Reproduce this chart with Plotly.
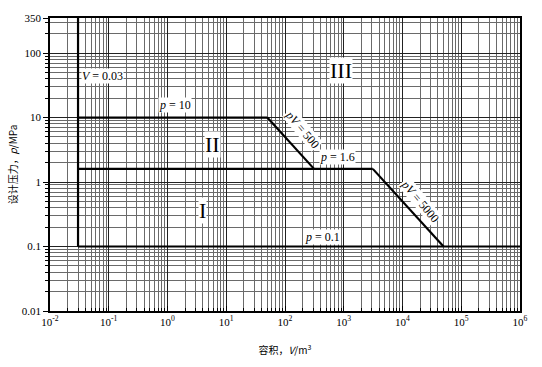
import math
import plotly.graph_objects as go

# ---- data ----
p_hi_seg_V = [0.03, 50]
p_hi_seg_p = [10, 10]
pv500_V = [50, 312.5]
pv500_p = [10, 1.6]
p_mid_seg_V = [0.03, 3125]
p_mid_seg_p = [1.6, 1.6]
pv5000_V = [3125, 50000]
pv5000_p = [1.6, 0.1]
p_low_seg_V = [0.03, 1e6]
p_low_seg_p = [0.1, 0.1]
v_line_V = [0.03, 0.03]
v_line_p = [0.1, 350]

x_tickvals = [1e-2, 1e-1, 1e0, 1e1, 1e2, 1e3, 1e4, 1e5, 1e6]
x_ticktext = ["10<sup>-2</sup>", "10<sup>-1</sup>", "10<sup>0</sup>", "10<sup>1</sup>", "10<sup>2</sup>",
              "10<sup>3</sup>", "10<sup>4</sup>", "10<sup>5</sup>", "10<sup>6</sup>"]
y_tickvals = [0.01, 0.1, 1, 10, 100, 350]
y_ticktext = ["0.01", "0.1", "1", "10", "100", "350"]

SERIF = "Liberation Serif"
LINE = dict(color="black", width=2.2)

fig = go.Figure()
for xs, ys in [(v_line_V, v_line_p), (p_hi_seg_V, p_hi_seg_p), (pv500_V, pv500_p),
               (p_mid_seg_V, p_mid_seg_p), (pv5000_V, pv5000_p), (p_low_seg_V, p_low_seg_p)]:
    fig.add_trace(go.Scatter(x=xs, y=ys, mode="lines", line=LINE, showlegend=False, hoverinfo="skip"))

ann_font = dict(family=SERIF, size=12, color="black")
# label positions (log10 V, log10 p)
labels = [
    (-1.10, 1.64, "<i>V</i> = 0.03", 0),
    (0.13, 1.20, "<i>p</i> = 10", 0),
    (2.29, 0.82, "<i>pV</i> = 500", 50),
    (2.90, 0.39, "<i>p</i> = 1.6", 0),
    (4.30, -0.29, "<i>pV</i> = 5000", 50),
    (2.63, -0.85, "<i>p</i> = 0.1", 0),
]
for x, y, t, ang in labels:
    fig.add_annotation(x=x, y=y, text=t, showarrow=False, font=ann_font,
                       bgcolor="white", textangle=ang, borderpad=0)

roman = [(0.59, -0.44, "I"), (0.76, 0.58, "II"), (2.95, 1.73, "III")]
for x, y, t in roman:
    fig.add_annotation(x=x, y=y, text=t, showarrow=False,
                       font=dict(family=SERIF, size=22, color="black"), bgcolor="white", borderpad=0)

fig.update_xaxes(type="log", range=[-2, 6], tickvals=x_tickvals, ticktext=x_ticktext,
                 ticks="inside", ticklen=5, tickcolor="black", showline=True, linecolor="black",
                 linewidth=1.5, mirror=True, showgrid=True, gridcolor="#222222", gridwidth=1.4,
                 minor=dict(dtick="D1", showgrid=True, gridcolor="#6a6a6a", gridwidth=1,
                            ticks="inside", ticklen=3, tickcolor="black"),
                 tickfont=dict(family=SERIF, size=11, color="black"),
                 title=dict(text="容积，<i>V</i>/m<sup>3</sup>", font=dict(family="Noto Sans CJK SC", size=10, color="black"),
                            standoff=20),
                 zeroline=False)
fig.update_yaxes(type="log", range=[-2, math.log10(350)], tickvals=y_tickvals, ticktext=y_ticktext,
                 ticks="outside", ticklen=5, tickcolor="black", showline=True, linecolor="black",
                 linewidth=1.5, mirror=True, showgrid=True, gridcolor="#222222", gridwidth=1.4,
                 minor=dict(dtick="D1", showgrid=True, gridcolor="#6a6a6a", gridwidth=1,
                            ticks="outside", ticklen=3, tickcolor="black"),
                 tickfont=dict(family=SERIF, size=11, color="black"),
                 title=dict(text="设计压力，<i>p</i>/MPa", font=dict(family="Noto Sans CJK SC", size=10, color="black"),
                            standoff=2),
                 zeroline=False)

fig.update_layout(width=542, height=367, margin=dict(l=50, r=22, t=14, b=54),
                  plot_bgcolor="white", paper_bgcolor="white", showlegend=False)

fig.write_html("out.html")
